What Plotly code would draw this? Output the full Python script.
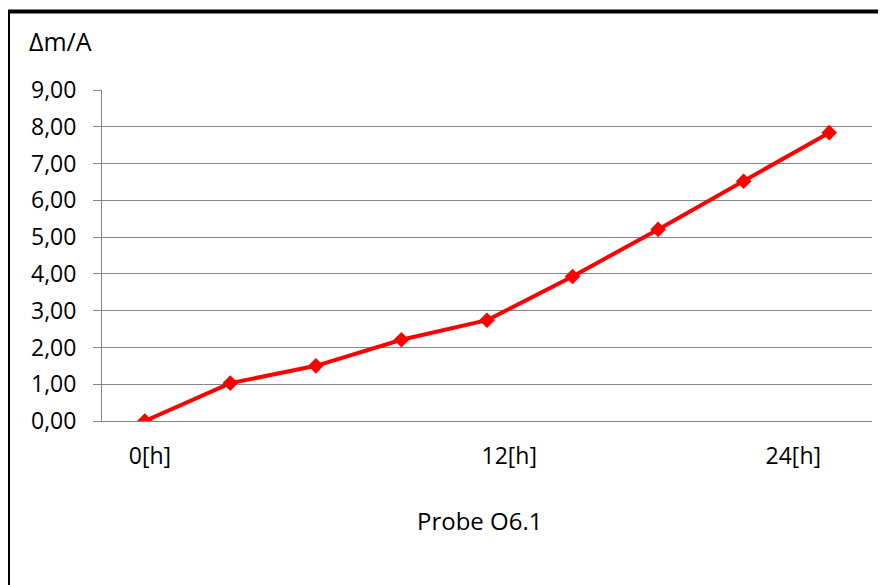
import plotly.graph_objects as go

# data
idx = [0, 1, 2, 3, 4, 5, 6, 7, 8]
values = [0.00, 1.03, 1.50, 2.21, 2.74, 3.93, 5.21, 6.52, 7.84]
x_tick_pos = [0.06, 4.26, 7.58]
x_tick_text = ["0[h]", "12[h]", "24[h]"]
y_ticks = [0, 1, 2, 3, 4, 5, 6, 7, 8, 9]
y_tick_text = ["0,00", "1,00", "2,00", "3,00", "4,00", "5,00", "6,00", "7,00", "8,00", "9,00"]

FONT = "Open Sans"
OFF = 8  # page body margin
W, H = 886 - OFF, 585 - OFF
L, R, T, B = 102 - OFF, 872 - OFF, 89.7 - OFF, 421.5 - OFF

def px_x(p):
    return (p - OFF - L) / (R - L)

def px_y(p):
    return (B - (p - OFF)) / (B - T)

fig = go.Figure()
fig.add_trace(go.Scatter(
    x=idx, y=values, mode="lines+markers",
    line=dict(color="#ff0000", width=4),
    marker=dict(symbol="diamond", size=12, color="#ff0000"),
    showlegend=False, hoverinfo="skip",
))

fig.update_layout(
    width=W, height=H,
    margin=dict(l=L, r=W - R, t=T, b=H - B, pad=0),
    paper_bgcolor="white", plot_bgcolor="white",
    font=dict(family=FONT, size=22, color="#000000"),
    xaxis=dict(
        range=[-0.5, 8.5], showgrid=False, zeroline=False,
        showline=True, linecolor="#868686", linewidth=1,
        tickmode="array", tickvals=x_tick_pos, ticktext=x_tick_text,
        ticks="", ticklabelstandoff=14, tickfont=dict(size=23),
    ),
    yaxis=dict(
        range=[0, 9], showgrid=True, gridcolor="#868686", gridwidth=1,
        zeroline=False, showline=True, linecolor="#868686", linewidth=1,
        tickmode="array", tickvals=y_ticks, ticktext=y_tick_text,
        ticks="outside", ticklen=8, tickcolor="#868686",
        ticklabelstandoff=12, tickfont=dict(size=23),
    ),
    shapes=[dict(
        type="rect", xref="paper", yref="paper",
        x0=px_x(8), x1=px_x(900), y0=px_y(600), y1=px_y(11),
        line=dict(color="black", width=4), fillcolor="rgba(0,0,0,0)",
        layer="above",
    )],
    annotations=[
        dict(text="Δm/A", xref="paper", yref="paper", x=px_x(27), y=px_y(41),
             xanchor="left", yanchor="middle", showarrow=False,
             font=dict(size=25, family=FONT)),
        dict(text="Probe O6.1", xref="paper", yref="paper", x=px_x(480), y=px_y(521),
             xanchor="center", yanchor="middle", showarrow=False,
             font=dict(size=24, family=FONT)),
    ],
)

fig.write_html("out.html")
